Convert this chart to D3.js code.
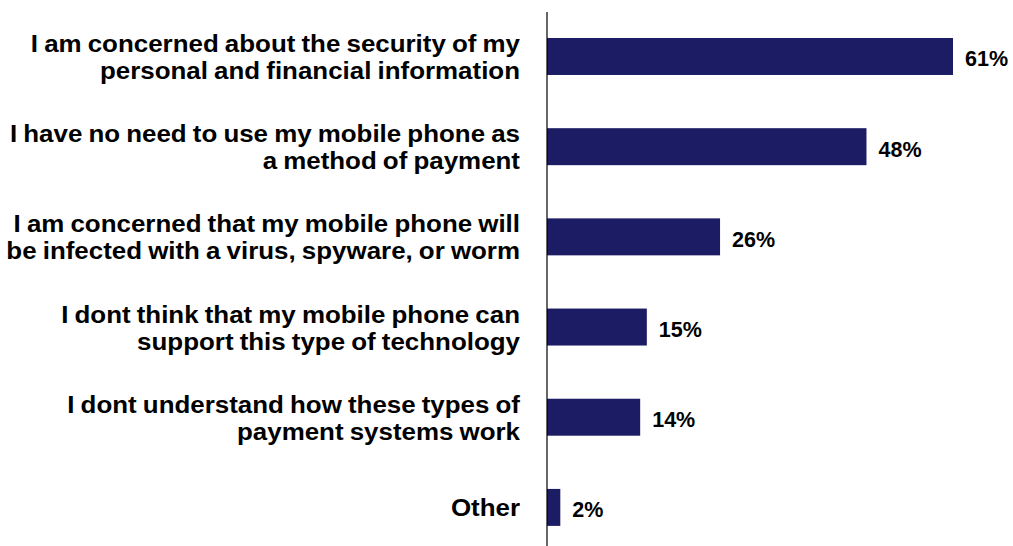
<!DOCTYPE html>
<html><head><meta charset="utf-8">
<script src="https://cdn.jsdelivr.net/npm/d3@7"></script>
<style>body{margin:0;background:#fff;}svg{display:block;}</style>
</head><body>
<svg id="chart" width="1013" height="546"></svg>
<script>
const categories = [
  ["I am concerned about the security of my", "personal and financial information"],
  ["I have no need to use my mobile phone as", "a method of payment"],
  ["I am concerned that my mobile phone will", "be infected with a virus, spyware, or worm"],
  ["I dont think that my mobile phone can", "support this type of technology"],
  ["I dont understand how these types of", "payment systems work"],
  ["Other"]
];
const values = [61, 48, 26, 15, 14, 2];
const valueLabels = ["61%", "48%", "26%", "15%", "14%", "2%"];

const svg = d3.select("#chart");
const x0 = 547;
const x = d3.scaleLinear().domain([0, 61]).range([x0, 953]);
const y = d3.scaleBand().domain(d3.range(values.length)).range([11.4, 552.5]).paddingInner(0.59).paddingOuter(0.295);

svg.selectAll("rect.bar").data(values).enter().append("rect")
  .attr("class","bar")
  .attr("x", x(0))
  .attr("y", (d,i)=>y(i))
  .attr("width", d=>x(d)-x(0))
  .attr("height", y.bandwidth())
  .attr("fill", "#1c1c64");

svg.append("line").attr("x1", x0).attr("x2", x0).attr("y1", 12).attr("y2", 546)
  .attr("stroke", "#000").attr("stroke-width", 1.2);

const font = "Liberation Sans, Arial, sans-serif";
svg.selectAll("text.val").data(values).enter().append("text")
  .attr("class","val")
  .attr("x", d=>x(d)+12)
  .attr("y", (d,i)=>y(i)+y.bandwidth()/2+10)
  .attr("font-family",font)
  .attr("font-weight","bold")
  .attr("font-size","21.5px")
  .attr("fill","#000")
  .text((d,i)=>valueLabels[i]);

const lab = svg.selectAll("text.cat").data(categories).enter().append("text")
  .attr("class","cat")
  .attr("transform", (d,i)=>`translate(520,${y(i)+y.bandwidth()/2+9}) scale(1.08,1)`)
  .attr("text-anchor","end")
  .attr("font-family",font)
  .attr("font-weight","bold")
  .attr("font-size","24px")
  .attr("word-spacing","-1px")
  .attr("fill","#000");
lab.each(function(lines,i){
  const n = lines.length;
  d3.select(this).selectAll("tspan").data(lines).enter().append("tspan")
    .attr("x", 0)
    .attr("y", (l,j)=> (j-(n-1)/2)*27)
    .text(l=>l);
});
</script>
</body></html>
